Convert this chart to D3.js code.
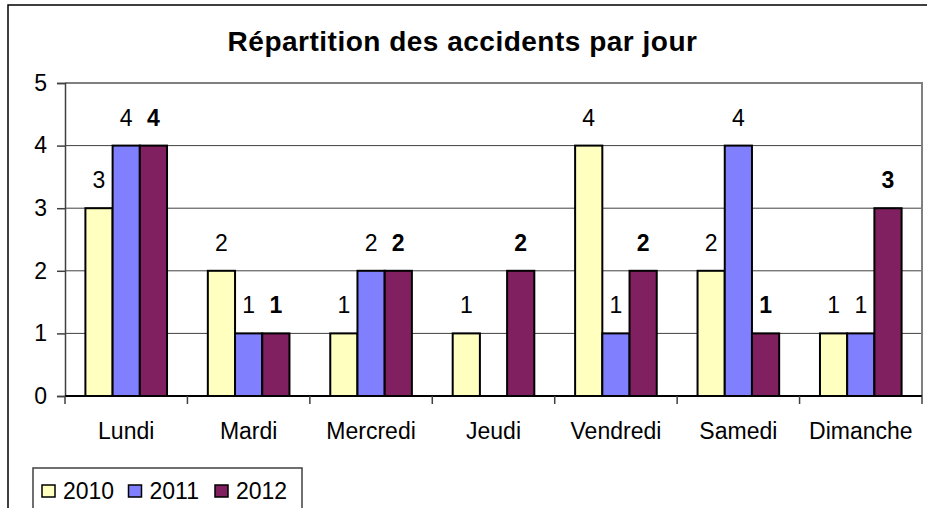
<!DOCTYPE html>
<html>
<head>
<meta charset="utf-8">
<script src="https://cdn.jsdelivr.net/npm/d3@7"></script>
<style>
  html, body { margin: 0; padding: 0; background: #fff; }
  svg { display: block; font-family: "Liberation Sans", Arial, sans-serif; }
</style>
</head>
<body>
<svg id="chart" width="927" height="508"></svg>
<script>
const title = "Répartition des accidents par jour";
const categories = ["Lundi", "Mardi", "Mercredi", "Jeudi", "Vendredi", "Samedi", "Dimanche"];
const seriesNames = ["2010", "2011", "2012"];
const values2010 = [3, 2, 1, 1, 4, 2, 1];
const values2011 = [4, 1, 2, 0, 1, 4, 1];
const values2012 = [4, 1, 2, 2, 2, 1, 3];
const colors = ["#FFFFC0", "#8080FF", "#802060"];
const yTicks = [0, 1, 2, 3, 4, 5];

const seriesValues = [values2010, values2011, values2012];
const svg = d3.select("#chart");

const plot = { left: 65, right: 922, top: 83, bottom: 396 };
const labelFont = 23;

// outer chart border
svg.append("rect").attr("x", 8).attr("y", 5).attr("width", 940).attr("height", 520)
  .attr("fill", "#fff").attr("stroke", "#000").attr("stroke-width", 1.5);

const x0 = d3.scaleBand().domain(categories).range([plot.left, plot.right]).paddingInner(0).paddingOuter(0);
const x1 = d3.scaleBand().domain(seriesNames).range([0, x0.bandwidth()]).paddingInner(0).paddingOuter(0.75);
const y = d3.scaleLinear().domain([0, 5]).range([plot.bottom, plot.top]);

// title
svg.append("text").attr("x", 462.5).attr("y", 51).attr("text-anchor", "middle")
  .attr("font-size", 28).attr("font-weight", "bold").attr("letter-spacing", 0.5)
  .attr("fill", "#000").text(title);

// gridlines
svg.append("g").selectAll("line").data(yTicks.filter(d => d > 0 && d < 5)).join("line")
  .attr("x1", plot.left).attr("x2", plot.right)
  .attr("y1", d => y(d)).attr("y2", d => y(d))
  .attr("stroke", "#404040").attr("stroke-width", 1);

// plot border top and right
svg.append("path")
  .attr("d", `M${plot.left},${y(5)}H${plot.right}V${plot.bottom}`)
  .attr("fill", "none").attr("stroke", "#808080").attr("stroke-width", 2);

// bars
const groups = svg.append("g").selectAll("g").data(categories).join("g")
  .attr("transform", d => `translate(${x0(d)},0)`);

groups.each(function(cat, ci) {
  const g = d3.select(this);
  seriesNames.forEach((s, si) => {
    const v = seriesValues[si][ci];
    if (v > 0) {
      g.append("rect")
        .attr("x", x1(s)).attr("y", y(v))
        .attr("width", x1.bandwidth()).attr("height", y(0) - y(v))
        .attr("fill", colors[si]).attr("stroke", "#000").attr("stroke-width", 2);
      g.append("text")
        .attr("x", x1(s) + x1.bandwidth() / 2).attr("y", y(v) - 20)
        .attr("text-anchor", "middle").attr("font-size", labelFont)
        .attr("font-weight", si === 2 ? "bold" : "normal")
        .attr("fill", "#000").text(v);
    }
  });
});

// y axis
const yAxis = d3.axisLeft(y).tickValues(yTicks).tickFormat(d3.format("d")).tickSize(8).tickPadding(10);
const gy = svg.append("g").attr("transform", `translate(${plot.left},0)`).call(yAxis);
gy.select(".domain").attr("stroke", "#404040").attr("stroke-width", 1.5);
gy.selectAll(".tick line").attr("stroke", "#404040").attr("stroke-width", 1.5);
gy.selectAll(".tick text").attr("font-size", labelFont).attr("fill", "#000")
  .attr("font-family", "Liberation Sans, Arial, sans-serif");

// x axis
const xAxis = d3.axisBottom(x0).tickSize(0).tickPadding(0).tickFormat(d => d);
const gx = svg.append("g").attr("transform", `translate(0,${plot.bottom})`).call(xAxis);
gx.select(".domain").remove();
gx.selectAll(".tick text").attr("font-size", labelFont).attr("fill", "#000").attr("dy", 0).attr("y", 43)
  .attr("font-family", "Liberation Sans, Arial, sans-serif");
const boundaries = categories.map(c => x0(c)).concat([plot.right]);
gx.append("line").attr("x1", plot.left).attr("x2", plot.right).attr("y1", 0).attr("y2", 0)
  .attr("stroke", "#000").attr("stroke-width", 2);
gx.selectAll("line.bt").data(boundaries).join("line").attr("class", "bt")
  .attr("x1", d => d).attr("x2", d => d).attr("y1", 0).attr("y2", 8)
  .attr("stroke", "#404040").attr("stroke-width", 1.5);

// legend
const legend = svg.append("g");
legend.append("rect").attr("x", 33).attr("y", 468).attr("width", 269).attr("height", 60)
  .attr("fill", "#fff").attr("stroke", "#404040").attr("stroke-width", 1.5);
const legendX = d3.scalePoint().domain(seriesNames).range([42, 215]);
seriesNames.forEach((s, i) => {
  legend.append("rect").attr("x", legendX(s)).attr("y", 485).attr("width", 13).attr("height", 12)
    .attr("fill", colors[i]).attr("stroke", "#000").attr("stroke-width", 1.5);
  legend.append("text").attr("x", legendX(s) + 21).attr("y", 499)
    .attr("font-size", labelFont).attr("fill", "#000").text(s);
});
</script>
</body>
</html>
